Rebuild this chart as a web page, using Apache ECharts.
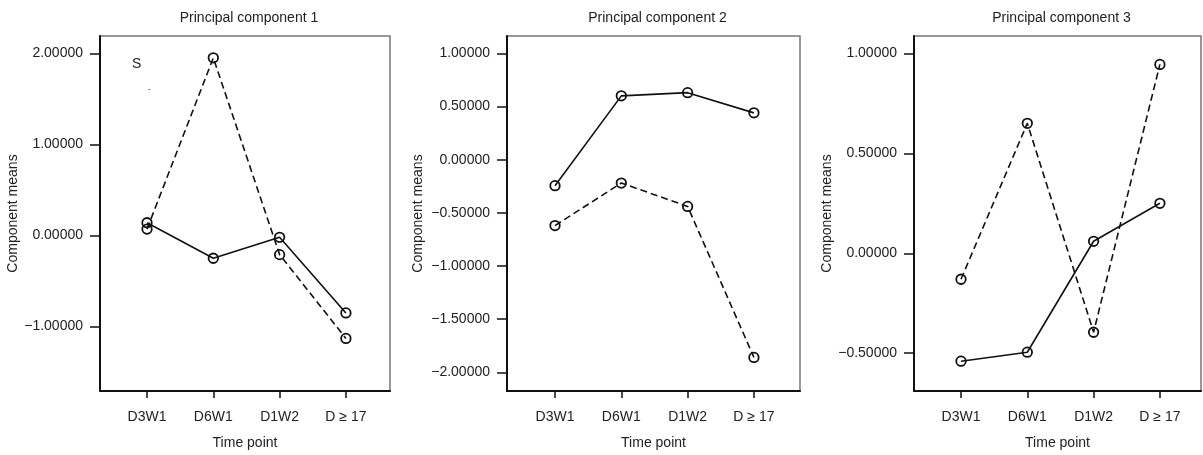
<!DOCTYPE html>
<html>
<head>
<meta charset="utf-8">
<script src="https://cdn.jsdelivr.net/npm/echarts@6/dist/echarts.min.js"></script>
<style>
html,body{margin:0;padding:0;background:#fff;}
#chart{width:1203px;height:455px;}
</style>
</head>
<body>
<div id="chart"></div>
<script>
// ---- data ----
const categories = ['D3W1', 'D6W1', 'D1W2', 'D \u2265 17'];
const categoryPositions = [0, 1, 2, 3];

const pc1Solid  = [0.14, -0.25, -0.02, -0.85];
const pc1Dashed = [0.07, 1.95, -0.21, -1.13];
const pc2Solid  = [-0.245, 0.60, 0.63, 0.44];
const pc2Dashed = [-0.62, -0.22, -0.44, -1.86];
const pc3Solid  = [-0.54, -0.495, 0.06, 0.25];
const pc3Dashed = [-0.13, 0.65, -0.395, 0.945];

const pc1Ticks = [-1, 0, 1, 2];
const pc2Ticks = [-2, -1.5, -1, -0.5, 0, 0.5, 1];
const pc3Ticks = [-0.5, 0, 0.5, 1];

const panelTitles = ['Principal component 1', 'Principal component 2', 'Principal component 3'];
const xAxisName = 'Time point';
const yAxisName = 'Component means';
const panelLabel = 'S';

// ---- layout ----
const FONT = '"Liberation Sans", Arial, Helvetica, sans-serif';
const TXT = '#222';
const panels = [
  {left: 100, width: 290, ymin: -1.707, ymax: 2.19, xmin: -0.709, xmax: 3.665, ticks: pc1Ticks, solid: pc1Solid, dashed: pc1Dashed, nameGap: 78},
  {left: 507, width: 293, ymin: -2.176, ymax: 1.163, xmin: -0.724, xmax: 3.695, ticks: pc2Ticks, solid: pc2Solid, dashed: pc2Dashed, nameGap: 82},
  {left: 914, width: 287, ymin: -0.689, ymax: 1.087, xmin: -0.709, xmax: 3.62, ticks: pc3Ticks, solid: pc3Solid, dashed: pc3Dashed, nameGap: 80}
];
const TOP = 36, HEIGHT = 355;

function fmtY(v) {
  const s = Math.abs(v).toFixed(5);
  return (v < -1e-9 ? '\u2212' : '') + s;
}
function pairs(vals) {
  return vals.map((v, i) => [categoryPositions[i], v]);
}

const grid = [], xAxis = [], yAxis = [], series = [], title = [];
panels.forEach((p, i) => {
  grid.push({left: p.left, top: TOP, width: p.width, height: HEIGHT, show: true,
    borderColor: '#777', borderWidth: 1.5, backgroundColor: 'transparent'});
  xAxis.push({
    type: 'value', gridIndex: i, min: p.xmin, max: p.xmax,
    name: xAxisName, nameLocation: 'middle', nameGap: 45,
    nameTextStyle: {fontFamily: FONT, fontSize: 14, color: TXT},
    axisLine: {show: true, onZero: false, lineStyle: {color: '#111', width: 2}},
    axisTick: {show: true, length: 7, customValues: categoryPositions, lineStyle: {color: '#111', width: 1.5}},
    axisLabel: {show: true, margin: 19, customValues: categoryPositions,
      formatter: v => categories[Math.round(v)] || '',
      fontFamily: FONT, fontSize: 14, color: TXT},
    splitLine: {show: false}
  });
  yAxis.push({
    type: 'value', gridIndex: i, min: p.ymin, max: p.ymax,
    name: yAxisName, nameLocation: 'middle', nameGap: p.nameGap,
    nameTextStyle: {fontFamily: FONT, fontSize: 14, color: TXT},
    axisLine: {show: true, onZero: false, lineStyle: {color: '#111', width: 2}},
    axisTick: {show: true, length: 10, customValues: p.ticks, lineStyle: {color: '#111', width: 1.5}},
    axisLabel: {show: true, margin: 17, customValues: p.ticks, formatter: fmtY,
      fontFamily: FONT, fontSize: 14, color: TXT},
    splitLine: {show: false}
  });
  const common = {
    type: 'line', xAxisIndex: i, yAxisIndex: i,
    symbol: 'circle', symbolSize: 9.5, showSymbol: true, silent: true, animation: false,
    itemStyle: {color: 'rgba(0,0,0,0)', borderColor: '#111', borderWidth: 1.8}
  };
  series.push(Object.assign({}, common, {
    data: pairs(p.dashed), z: 2,
    lineStyle: {color: '#111', width: 1.6, type: [7, 4]}
  }));
  series.push(Object.assign({}, common, {
    data: pairs(p.solid), z: 3,
    lineStyle: {color: '#111', width: 1.6, type: 'solid'}
  }));
  title.push({
    text: panelTitles[i], left: p.left + p.width / 2 - 1, top: 6, textAlign: 'center',
    textStyle: {fontFamily: FONT, fontSize: 14, fontWeight: 'normal', color: TXT}
  });
});
title.push({text: panelLabel, left: 127, top: 52,
  textStyle: {fontFamily: FONT, fontSize: 14, fontWeight: 'normal', color: TXT}});
title.push({text: '-', left: 143, top: 80,
  textStyle: {fontFamily: FONT, fontSize: 8, fontWeight: 'normal', color: TXT}});

const chart = echarts.init(document.getElementById('chart'), null, {renderer: 'canvas'});
chart.setOption({
  animation: false,
  backgroundColor: '#fff',
  title, grid, xAxis, yAxis, series
});
</script>
</body>
</html>
